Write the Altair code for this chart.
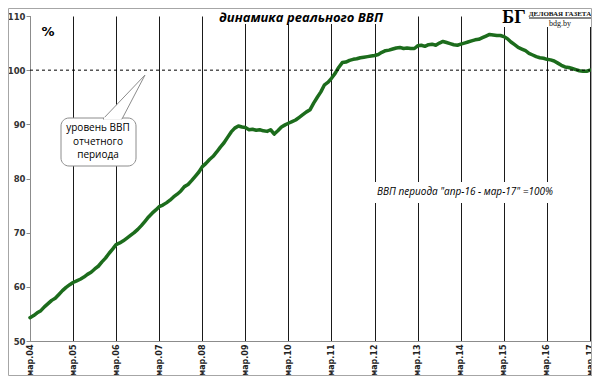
import altair as alt
import pandas as pd

# ---- data (monthly, Mar-04 .. Mar-17) ----
v04 = [54.3, 54.7, 55.2, 55.6, 56.3, 56.9, 57.5, 57.9, 58.6, 59.3, 59.9, 60.4]
v05 = [60.8, 61.1, 61.4, 61.8, 62.3, 62.7, 63.3, 63.8, 64.6, 65.3, 66.2, 67.0]
v06 = [67.8, 68.1, 68.5, 69.0, 69.5, 70.0, 70.6, 71.3, 72.1, 72.9, 73.6, 74.2]
v07 = [74.8, 75.1, 75.5, 76.0, 76.6, 77.1, 77.7, 78.5, 78.9, 79.6, 80.4, 81.2]
v08 = [82.2, 82.8, 83.5, 84.1, 84.9, 85.8, 86.6, 87.6, 88.6, 89.3, 89.7, 89.5]
v09 = [89.4, 89.0, 89.1, 88.9, 89.0, 88.8, 88.7, 89.0, 88.2, 88.8, 89.5, 89.9]
v10 = [90.2, 90.5, 90.8, 91.3, 91.8, 92.3, 92.7, 93.9, 95.0, 96.0, 97.3, 97.8]
v11 = [98.5, 99.4, 100.5, 101.4, 101.5, 101.8, 102.0, 102.1, 102.3, 102.4, 102.5, 102.6]
v12 = [102.7, 102.9, 103.3, 103.6, 103.7, 103.9, 104.1, 104.2, 104.0, 104.1, 104.0, 104.0]
v13 = [104.5, 104.6, 104.4, 104.7, 104.8, 104.6, 105.0, 105.3, 105.1, 104.9, 104.7, 104.6]
v14 = [104.8, 105.0, 105.2, 105.4, 105.6, 105.7, 106.0, 106.3, 106.6, 106.5, 106.4, 106.4]
v15 = [106.2, 105.8, 105.2, 104.7, 104.2, 103.9, 103.6, 103.1, 102.8, 102.5, 102.3, 102.2]
v16 = [102.0, 101.9, 101.7, 101.3, 100.9, 100.6, 100.5, 100.3, 100.1, 99.9, 99.8, 99.8]
v17 = [100.0]

values = v04 + v05 + v06 + v07 + v08 + v09 + v10 + v11 + v12 + v13 + v14 + v15 + v16 + v17
dates = pd.date_range("2004-03-01", "2017-03-01", freq="MS").strftime("%Y-%m-%d").tolist()
tick_years = list(range(2004, 2018))
y_ticks = [50, 60, 70, 80, 90, 100, 110]
ref_level = [100]

title_text = ["динамика реального ВВП"]
unit_text = ["%"]
callout_lines = ["уровень ВВП", "отчетного", "периода"]
note_text = ['ВВП периода "апр-16 - мар-17" =100%']
logo_big = ["БГ"]
logo_name = ["ДЕЛОВАЯ ГАЗЕТА"]
logo_site = ["bdg.by"]

df = pd.DataFrame({"date": dates, "value": values})
one = pd.DataFrame({"a": [0]})

GREEN = "#1c6c1c"
GRAY = "#8c8c8c"

x_enc = alt.X(
    "date:T",
    scale=alt.Scale(type="utc",
                    domain=[alt.DateTime(year=2004, month=3, date=1, utc=True),
                            alt.DateTime(year=2017, month=3, date=1, utc=True)]),
    axis=alt.Axis(
        values=[alt.DateTime(year=yy, month=3, date=1, utc=True) for yy in tick_years],
        labelExpr="'мар.' + utcFormat(datum.value, '%y')",
        labelAngle=270, labelFont="DejaVu Sans", labelFontWeight="bold",
        labelFontSize=8, labelColor="#222222", labelPadding=3,
        labelOverlap=False, labelBound=False, labelFlush=False,
        ticks=False, domainColor=GRAY, domainWidth=1,
        grid=True, gridColor="#1a1a1a", gridWidth=1, gridOpacity=1,
        title=None),
)
y_enc = alt.Y(
    "value:Q",
    scale=alt.Scale(domain=[50, 110], nice=False, zero=False),
    axis=alt.Axis(values=y_ticks, grid=False, tickSize=4, tickColor=GRAY,
                  domainColor=GRAY, labelFont="DejaVu Sans", labelFontWeight="bold",
                  labelFontSize=8.5, labelColor="#333333", labelPadding=1, title=None),
)

line = alt.Chart(df).mark_line(color=GREEN, strokeWidth=3.5, strokeJoin="round",
                               strokeCap="round").encode(x=x_enc, y=y_enc)

ref = alt.Chart(one).mark_rule(
    color="black", strokeWidth=1, strokeDash=[3, 3]).encode(
    y=alt.datum(ref_level[0]), x=alt.value(0), x2=alt.value(560))


def box(x1, x2, y1, y2, **kw):
    return alt.Chart(one).mark_rect(**kw).encode(
        x=alt.value(x1), x2=alt.value(x2), y=alt.value(y1), y2=alt.value(y2))


title_bg = box(177, 365, -10, 8, color="white")
logo_bg = box(470, 562, -10, 11, color="white")
note_bg = box(340, 528, 166, 187, color="white")
callout_box = box(31, 106, 102, 150, fill="white", stroke=GRAY, strokeWidth=1,
                  cornerRadius=8)

pointer = alt.Chart(one).mark_point(
    shape="M 0.84 -0.86 L -0.84 0.9 L -0.08 0.9 Z", size=2500, filled=True,
    fill="white", stroke=GRAY, strokeWidth=1, opacity=1).encode(
    x=alt.value(94), y=alt.value(80.5))
pointer_gap = alt.Chart(one).mark_rule(color="white", strokeWidth=2.5).encode(
    x=alt.value(74), x2=alt.value(91.5), y=alt.value(102.5), y2=alt.value(102.5))

title = alt.Chart(pd.DataFrame({"t": title_text})).mark_text(
    font="Open Sans", fontSize=13, fontWeight="bold", fontStyle="italic",
    color="black", baseline="middle").encode(text="t:N", x=alt.value(271), y=alt.value(2))
unit = alt.Chart(pd.DataFrame({"t": unit_text})).mark_text(
    font="DejaVu Sans", fontSize=13, fontWeight="bold", color="black",
    baseline="middle").encode(text="t:N", x=alt.value(18), y=alt.value(16))

callout_txt = alt.Chart(pd.DataFrame({"t": ["\n".join(callout_lines)]})).mark_text(
    font="Open Sans", fontSize=10, color="black", baseline="top", lineBreak="\n",
    lineHeight=13.5).encode(text="t:N", x=alt.value(68), y=alt.value(107))

note = alt.Chart(pd.DataFrame({"t": note_text})).mark_text(
    font="Open Sans", fontSize=10, fontStyle="italic", color="black",
    baseline="middle").encode(text="t:N", x=alt.value(435), y=alt.value(176))

logo1 = alt.Chart(pd.DataFrame({"t": logo_big})).mark_text(
    font="Liberation Serif", fontSize=18, fontWeight="bold", color="black",
    baseline="middle").encode(text="t:N", x=alt.value(484), y=alt.value(2))
logo2 = alt.Chart(pd.DataFrame({"t": logo_name})).mark_text(
    font="Liberation Serif", fontSize=7, fontWeight="bold", color="#111111",
    baseline="alphabetic").encode(text="t:N", x=alt.value(530), y=alt.value(0))
logo_ul = alt.Chart(one).mark_rule(color="#111111", strokeWidth=1).encode(
    x=alt.value(499), x2=alt.value(561), y=alt.value(2), y2=alt.value(2))
logo3 = alt.Chart(pd.DataFrame({"t": logo_site})).mark_text(
    font="Liberation Serif", fontSize=8, color="#111111",
    baseline="middle").encode(text="t:N", x=alt.value(530), y=alt.value(8))

border = alt.Chart(one).mark_rect(fillOpacity=0, stroke="#a6a6a6", strokeWidth=1).encode(
    x=alt.value(-21.5), x2=alt.value(561.5), y=alt.value(-7.5), y2=alt.value(359.5))

chart = alt.layer(
    line, ref, title_bg, logo_bg, note_bg, callout_box, pointer, pointer_gap,
    title, unit, callout_txt, note, logo1, logo2, logo_ul, logo3, border
).properties(
    width=560, height=325,
    autosize=alt.AutoSizeParams(type="none"),
    padding={"left": 22, "top": 8, "right": 2, "bottom": 35},
    background="white",
).configure_view(stroke=None)

chart.save("out.html", embed_options={"renderer": "svg", "actions": False})
